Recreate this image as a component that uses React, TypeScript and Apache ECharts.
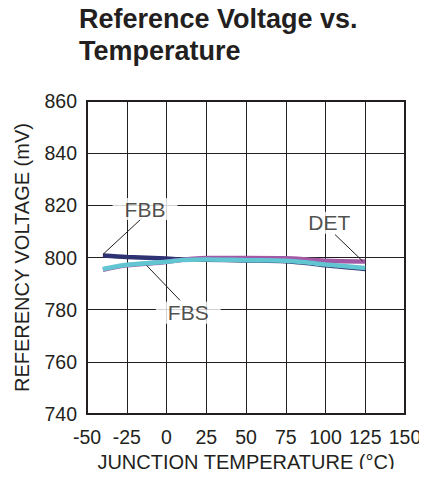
import React, { useEffect, useRef } from "react";
import * as echarts from "echarts";

const titleText = "Reference Voltage vs.\nTemperature";
const xAxisName = "JUNCTION TEMPERATURE (°C)";
const yAxisName = "REFERENCY VOLTAGE (mV)";

const temps = [-40, -25, 0, 10, 25, 50, 75, 90, 100, 125];
const fbb = [800.8, 800.2, 799.6, 799.3, 799.2, 798.9, 798.6, 797.8, 797.0, 795.6];
const det = [795.3, 797.0, 798.3, 799.2, 799.8, 799.8, 799.7, 799.2, 798.8, 798.5];
const fbs = [795.6, 797.2, 798.4, 799.1, 799.3, 799.0, 798.8, 798.0, 797.3, 796.0];

const labelNames = ["FBB", "FBS", "DET"];
const labelPos = [
  [-13.5, 818.6],
  [13.7, 778.8],
  [102.4, 813.3],
];
const leaderFrom = [
  [-15.6, 815.0],
  [8.5, 783.6],
  [106, 808.8],
];
const leaderTo = [
  [-40, 801.2],
  [-13.5, 797.6],
  [123.4, 798.6],
];

const INK = "#231f20";
const FONT = "'Liberation Sans', Arial, Helvetica, sans-serif";

export default function App() {
  const ref = useRef<HTMLDivElement>(null);
  useEffect(() => {
    if (!ref.current) return;
    const chart = echarts.init(ref.current, undefined, { renderer: "svg" });
    const pair = (ys: number[]) => temps.map((t, i) => [t, ys[i]]);
    chart.setOption({
      animation: false,
      backgroundColor: "#ffffff",
      title: {
        text: titleText,
        left: 79,
        top: 3,
        padding: 0,
        textStyle: {
          fontFamily: FONT,
          fontSize: 27,
          fontWeight: "bold",
          color: INK,
          lineHeight: 32,
        },
      },
      grid: {
        left: 87,
        right: 22,
        top: 101,
        bottom: 59,
        show: true,
        borderColor: INK,
        borderWidth: 2,
        backgroundColor: "transparent",
      },
      xAxis: {
        type: "value",
        min: -50,
        max: 150,
        interval: 25,
        name: xAxisName,
        nameLocation: "middle",
        nameGap: 37,
        nameTextStyle: { fontFamily: FONT, fontSize: 20, color: INK },
        axisLine: { show: false },
        axisTick: { show: false },
        axisLabel: { fontFamily: FONT, fontSize: 19.5, color: INK, margin: 13 },
        splitLine: { show: true, lineStyle: { color: INK, width: 1 } },
      },
      yAxis: {
        type: "value",
        min: 740,
        max: 860,
        interval: 20,
        name: yAxisName,
        nameLocation: "middle",
        nameGap: 55,
        nameTextStyle: { fontFamily: FONT, fontSize: 20, color: INK },
        axisLine: { show: false },
        axisTick: { show: false },
        axisLabel: { fontFamily: FONT, fontSize: 19.5, color: INK, margin: 10 },
        splitLine: { show: true, lineStyle: { color: INK, width: 1 } },
      },
      series: [
        {
          name: "FBB",
          type: "line",
          data: pair(fbb),
          showSymbol: false,
          smooth: 0.3,
          lineStyle: { color: "#2e3172", width: 4.5 },
          z: 3,
        },
        {
          name: "DET",
          type: "line",
          data: pair(det),
          showSymbol: false,
          smooth: 0.3,
          lineStyle: { color: "#a25aa6", width: 4.5 },
          z: 4,
        },
        {
          name: "FBS",
          type: "line",
          data: pair(fbs),
          showSymbol: false,
          smooth: 0.3,
          lineStyle: { color: "#62c6d2", width: 4.5 },
          z: 5,
        },
        {
          name: "leaders",
          type: "line",
          data: [],
          z: 6,
          markLine: {
            silent: true,
            symbol: "none",
            label: { show: false },
            lineStyle: { color: INK, width: 1, type: "solid" },
            data: leaderFrom.map((f, i) => [
              { coord: f },
              { coord: leaderTo[i] },
            ]),
          },
        },
        {
          name: "labels",
          type: "scatter",
          symbolSize: 0,
          z: 7,
          data: labelPos.map((p, i) => ({ value: p, name: labelNames[i] })),
          label: {
            show: true,
            position: "inside",
            formatter: (p: any) => p.name,
            fontFamily: FONT,
            fontSize: 21,
            color: INK,
            backgroundColor: "#ffffff",
            padding: [1, 12, 0, 12],
          },
        },
      ],
    });
    return () => chart.dispose();
  }, []);
  return <div ref={ref} style={{ width: 427, height: 477, margin: -8 }} />;
}
